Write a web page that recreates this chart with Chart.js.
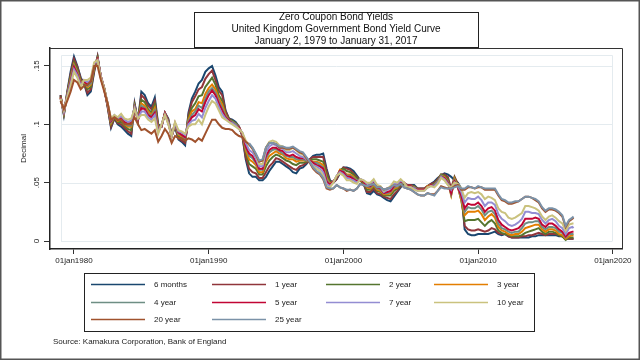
<!DOCTYPE html>
<html><head><meta charset="utf-8">
<script src="https://cdn.jsdelivr.net/npm/chart.js@4.4.1/dist/chart.umd.min.js"></script>
<style>html,body{margin:0;padding:0;background:#fff;}canvas{display:block;}</style>
</head><body>
<canvas id="c" width="640" height="360"></canvas>
<script>
const FONT = '"Liberation Sans", Arial, sans-serif';
const titleLines = ['Zero Coupon Bond Yields','United Kingdom Government Bond Yield Curve','January 2, 1979 to January 31, 2017'];
const sourceText = 'Source: Kamakura Corporation, Bank of England';
const yAxisTitle = 'Decimal';
const yTicks = [0, 0.05, 0.1, 0.15];
const yTickLabels = ['0', '.05', '.1', '.15'];
const xTicks = [1980, 1990, 2000, 2010, 2020];
const xTickLabels = ['01jan1980', '01jan1990', '01jan2000', '01jan2010', '01jan2020'];
const seriesLabels = ['6 months','1 year','2 year','3 year','4 year','5 year','7 year','10 year','20 year','25 year'];
const seriesColors = ['#1a476f','#90353b','#55752f','#e37e00','#6e8e84','#c10534','#938dd2','#cac27e','#a0522d','#7b92a8'];

const dates = [
1979,1979.25,1979.5,1979.75, 1980,1980.25,1980.5,1980.75, 1981,1981.25,1981.5,1981.75,
1982,1982.25,1982.5,1982.75, 1983,1983.25,1983.5,1983.75, 1984,1984.25,1984.5,1984.75,
1985,1985.25,1985.5,1985.75, 1986,1986.25,1986.5,1986.75, 1987,1987.25,1987.5,1987.75,
1988,1988.25,1988.5,1988.75, 1989,1989.25,1989.5,1989.75, 1990,1990.25,1990.5,1990.75,
1991,1991.25,1991.5,1991.75, 1992,1992.25,1992.5,1992.75, 1993,1993.25,1993.5,1993.75,
1994,1994.25,1994.5,1994.75, 1995,1995.25,1995.5,1995.75, 1996,1996.25,1996.5,1996.75,
1997,1997.25,1997.5,1997.75, 1998,1998.25,1998.5,1998.75, 1999,1999.25,1999.5,1999.75,
2000,2000.25,2000.5,2000.75, 2001,2001.25,2001.5,2001.75, 2002,2002.25,2002.5,2002.75,
2003,2003.25,2003.5,2003.75, 2004,2004.25,2004.5,2004.75, 2005,2005.25,2005.5,2005.75,
2006,2006.25,2006.5,2006.75, 2007,2007.25,2007.5,2007.75, 2008,2008.25,2008.5,2008.75,
2009,2009.25,2009.5,2009.75, 2010,2010.25,2010.5,2010.75, 2011,2011.25,2011.5,2011.75,
2012,2012.25,2012.5,2012.75, 2013,2013.25,2013.5,2013.75, 2014,2014.25,2014.5,2014.75,
2015,2015.25,2015.5,2015.75, 2016,2016.25,2016.5,2016.75, 2017,2017.08];

const m6 = [
.125,.108,.128,.145, .158,.150,.140,.135, .125,.128,.145,.158, .140,.130,.115,.097,
.105,.100,.098,.095, .092,.090,.118,.103, .128,.125,.118,.115, .123,.100,.098,.110,
.105,.090,.098,.087, .085,.082,.110,.122, .128,.135,.138,.145, .148,.150,.142,.132,
.128,.112,.105,.104, .102,.098,.090,.070, .058,.055,.055,.052, .052,.055,.060,.064,
.068,.068,.066,.064, .062,.059,.058,.062, .063,.066,.070,.073, .074,.074,.075,.062,
.052,.050,.053,.058, .063,.063,.062,.060, .056,.052,.049,.041, .040,.043,.040,.039,
.037,.035,.034,.038, .042,.046,.049,.048, .048,.048,.045,.045, .045,.047,.049,.051,
.054,.056,.058,.057, .055,.052,.050,.045, .010,.006,.005,.005, .006,.006,.006,.006,
.007,.008,.006,.005, .006,.004,.003,.003, .003,.003,.003,.003, .004,.004,.005,.005,
.005,.005,.005,.005, .004,.004,.002,.002, .002,.002];

const y1 = [
.125,.109,.127,.143, .156,.149,.139,.135, .127,.130,.146,.158, .139,.130,.115,.098,
.105,.101,.100,.097, .094,.092,.117,.103, .125,.122,.116,.113, .120,.099,.098,.110,
.104,.090,.099,.088, .086,.084,.108,.119, .124,.130,.132,.139, .143,.146,.138,.129,
.125,.111,.105,.103, .101,.098,.090,.072, .062,.059,.058,.054, .054,.059,.064,.067,
.071,.070,.068,.066, .064,.062,.061,.064, .065,.067,.070,.072, .072,.072,.072,.060,
.051,.050,.053,.060, .063,.062,.061,.058, .055,.052,.049,.042, .042,.045,.041,.040,
.038,.037,.036,.040, .043,.047,.049,.048, .048,.047,.045,.045, .045,.047,.049,.050,
.053,.057,.057,.055, .045,.055,.049,.040, .013,.010,.009,.009, .010,.009,.008,.009,
.011,.010,.007,.006, .006,.004,.003,.003, .003,.004,.004,.005, .005,.006,.007,.006,
.005,.006,.006,.006, .005,.004,.002,.002, .002,.002];

const y2 = [
.124,.109,.126,.141, .153,.147,.137,.136, .130,.132,.148,.157, .140,.131,.116,.100,
.106,.102,.102,.099, .096,.095,.116,.104, .121,.119,.113,.110, .117,.097,.099,.109,
.103,.090,.099,.090, .088,.086,.106,.114, .118,.124,.125,.132, .136,.140,.134,.125,
.120,.109,.104,.103, .101,.097,.091,.076, .066,.064,.062,.057, .057,.064,.069,.072,
.074,.073,.071,.069, .068,.066,.065,.067, .067,.068,.069,.070, .070,.069,.068,.057,
.050,.051,.054,.061, .062,.060,.059,.057, .054,.052,.050,.044, .044,.047,.043,.042,
.039,.039,.039,.043, .045,.048,.049,.047, .047,.047,.044,.044, .044,.047,.048,.049,
.052,.057,.056,.053, .040,.054,.047,.035, .017,.018,.018,.018, .019,.016,.013,.016,
.018,.015,.009,.007, .006,.005,.004,.004, .004,.005,.007,.008, .009,.010,.011,.008,
.006,.008,.008,.007, .005,.004,.001,.003, .003,.003];

const y3 = [
.123,.110,.125,.139, .151,.145,.136,.137, .132,.134,.149,.156, .141,.131,.117,.101,
.107,.103,.104,.100, .098,.098,.115,.104, .118,.116,.111,.108, .114,.096,.099,.109,
.102,.091,.100,.091, .090,.087,.104,.111, .113,.119,.118,.126, .131,.134,.130,.122,
.117,.108,.103,.102, .100,.097,.092,.078, .070,.068,.065,.059, .059,.068,.073,.075,
.077,.075,.074,.071, .070,.070,.068,.069, .069,.069,.069,.068, .068,.067,.065,.054,
.049,.051,.055,.061, .060,.057,.057,.055, .052,.052,.051,.046, .045,.048,.044,.043,
.040,.040,.041,.045, .046,.050,.050,.047, .047,.046,.044,.044, .044,.047,.048,.048,
.051,.056,.055,.051, .039,.053,.046,.035, .022,.025,.025,.025, .026,.023,.018,.021,
.023,.020,.012,.009, .008,.006,.005,.006, .006,.008,.011,.012, .013,.014,.014,.010,
.008,.010,.010,.009, .006,.005,.002,.004, .005,.005];

const y4 = [
.123,.110,.125,.138, .150,.144,.135,.137, .133,.135,.150,.156, .141,.131,.117,.102,
.107,.104,.105,.101, .099,.099,.115,.104, .116,.114,.109,.107, .112,.095,.099,.109,
.102,.091,.100,.092, .091,.088,.103,.108, .111,.116,.114,.122, .128,.131,.127,.120,
.114,.107,.103,.102, .100,.097,.092,.080, .073,.071,.067,.061, .061,.071,.076,.078,
.079,.077,.075,.073, .072,.072,.070,.070, .070,.069,.069,.067, .067,.065,.063,.053,
.048,.051,.055,.060, .060,.056,.056,.054, .052,.053,.051,.047, .046,.049,.045,.044,
.041,.041,.042,.046, .047,.050,.050,.047, .047,.046,.044,.044, .044,.046,.048,.048,
.051,.056,.054,.051, .040,.052,.046,.037, .025,.029,.028,.028, .030,.027,.022,.025,
.026,.023,.015,.011, .010,.008,.007,.008, .008,.011,.015,.016, .016,.017,.017,.012,
.010,.012,.012,.011, .008,.007,.003,.006, .006,.006];

const y5 = [
.123,.111,.124,.136, .149,.143,.134,.137, .134,.137,.151,.156, .141,.130,.117,.103,
.107,.104,.106,.102, .101,.101,.114,.104, .114,.113,.108,.106, .110,.094,.099,.109,
.101,.090,.101,.093, .091,.089,.101,.106, .108,.113,.111,.119, .125,.129,.125,.118,
.112,.106,.103,.101, .099,.097,.092,.081, .075,.073,.068,.062, .062,.073,.078,.080,
.080,.078,.077,.074, .073,.074,.072,.071, .071,.070,.069,.067, .065,.064,.062,.051,
.048,.051,.055,.060, .059,.055,.055,.053, .051,.053,.051,.047, .047,.050,.046,.045,
.041,.042,.043,.047, .048,.051,.050,.047, .047,.045,.044,.044, .044,.046,.048,.047,
.050,.055,.054,.050, .041,.051,.046,.039, .028,.032,.031,.031, .033,.030,.025,.028,
.029,.026,.018,.014, .012,.010,.009,.010, .011,.014,.019,.019, .019,.020,.019,.014,
.012,.015,.015,.013, .010,.008,.004,.007, .008,.008];

const y7 = [
.122,.111,.124,.135, .147,.142,.133,.138, .136,.138,.152,.155, .141,.130,.118,.104,
.108,.105,.107,.104, .102,.103,.114,.105, .111,.111,.106,.104, .108,.093,.100,.108,
.101,.090,.101,.094, .093,.091,.100,.103, .104,.109,.106,.114, .120,.125,.122,.115,
.109,.105,.102,.101, .099,.096,.093,.084, .078,.076,.071,.064, .064,.076,.081,.083,
.082,.080,.079,.076, .076,.077,.075,.073, .072,.070,.068,.065, .064,.062,.059,.049,
.047,.050,.056,.059, .057,.054,.053,.052, .050,.053,.052,.049, .049,.052,.047,.046,
.042,.044,.045,.049, .049,.052,.050,.046, .046,.045,.043,.043, .043,.046,.047,.047,
.050,.055,.053,.049, .044,.050,.047,.042, .033,.037,.036,.036, .038,.035,.030,.033,
.033,.031,.023,.019, .017,.014,.013,.014, .016,.019,.025,.025, .024,.024,.023,.018,
.015,.018,.019,.017, .013,.011,.006,.011, .012,.011];

const y10 = [
.122,.112,.123,.133, .145,.140,.132,.138, .138,.140,.153,.155, .140,.130,.118,.105,
.108,.106,.109,.105, .104,.105,.113,.105, .108,.108,.104,.102, .105,.092,.100,.108,
.100,.090,.102,.095, .094,.092,.098,.100, .100,.104,.100,.108, .115,.120,.118,.112,
.106,.104,.102,.100, .098,.096,.093,.086, .082,.080,.074,.066, .066,.080,.085,.086,
.085,.082,.081,.078, .078,.080,.078,.075, .074,.071,.068,.064, .062,.060,.056,.047,
.046,.050,.056,.058, .056,.052,.052,.050, .049,.053,.052,.050, .050,.053,.048,.047,
.043,.045,.047,.051, .050,.053,.050,.046, .046,.044,.043,.043, .043,.046,.047,.046,
.049,.054,.052,.048, .046,.050,.049,.045, .037,.041,.042,.041, .042,.040,.036,.038,
.037,.035,.028,.025, .024,.020,.019,.020, .022,.024,.030,.030, .029,.028,.026,.021,
.018,.021,.022,.020, .017,.015,.009,.014, .015,.015];

const y20 = [
.120,.113,.120,.128, .138,.136,.130,.133, .134,.137,.150,.150, .138,.128,.118,.104,
.106,.104,.104,.100, .100,.100,.106,.100, .095,.096,.094,.092, .095,.085,.090,.096,
.092,.084,.090,.088, .088,.086,.088,.087, .085,.088,.086,.092, .098,.104,.104,.100,
.097,.096,.096,.095, .092,.090,.089,.085, .083,.079,.074,.068, .069,.080,.084,.084,
.083,.080,.080,.079, .079,.080,.078,.076, .075,.071,.067,.062, .059,.057,.053,.045,
.044,.045,.048,.046, .045,.043,.044,.043, .045,.049,.048,.047, .048,.049,.046,.046,
.044,.045,.046,.048, .047,.049,.046,.045, .044,.042,.040,.039, .039,.041,.040,.040,
.043,.047,.046,.045, .045,.047,.048,.044, .044,.046,.046,.045, .046,.046,.044,.044,
.044,.044,.039,.035, .034,.032,.032,.033, .034,.036,.038,.038, .037,.035,.033,.028,
.025,.027,.027,.026, .024,.021,.012,.017, .019,.020];

const y25 = [
null,null,null,null, null,null,null,null, null,null,null,null, null,null,null,null,
null,null,null,null, null,null,null,null, null,null,null,null, null,null,null,null,
null,null,null,null, null,null,null,null, null,null,null,null, null,null,null,null,
null,null,null,null, null,null,null,null, .084,.080,.075,.069, .070,.080,.084,.084,
.083,.081,.081,.080, .080,.081,.079,.077, .076,.072,.068,.063, .060,.058,.054,.046,
.045,.045,.048,.046, .045,.044,.044,.043, .045,.049,.048,.047, .048,.049,.046,.046,
.044,.045,.046,.048, .047,.049,.046,.045, .044,.042,.040,.039, .039,.041,.040,.039,
.043,.046,.045,.045, .045,.046,.047,.045, .045,.047,.046,.045, .047,.046,.045,.045,
.045,.045,.040,.036, .035,.033,.033,.034, .034,.036,.038,.038, .037,.036,.034,.029,
.026,.028,.028,.027, .025,.022,.013,.018, .020,.021];

const seriesValues = [m6, y1, y2, y3, y4, y5, y7, y10, y20, y25];

const datasets = seriesValues.map((vals, i) => ({
  label: seriesLabels[i],
  data: vals.map((v, k) => ({ x: dates[k], y: v })),
  borderColor: seriesColors[i],
  backgroundColor: seriesColors[i],
  borderWidth: 2,
  pointRadius: 0,
  tension: 0,
  fill: false,
  spanGaps: false,
  order: seriesValues.length - i
}));

const decor = {
  id: 'decor',
  beforeDraw(chart) {
    const ctx = chart.ctx;
    ctx.save();
    ctx.fillStyle = '#fff';
    ctx.fillRect(0, 0, chart.width, chart.height);
    ctx.restore();
  },
  beforeDatasetsDraw(chart) {
    const ctx = chart.ctx, a = chart.chartArea, ys = chart.scales.y;
    const l = a.left + 11, r = a.right - 10, t = a.top + 7;
    ctx.save();
    ctx.strokeStyle = '#e4ebef';
    ctx.lineWidth = 1;
    yTicks.forEach(v => {
      const p = Math.round(ys.getPixelForValue(v)) + 0.5;
      ctx.beginPath(); ctx.moveTo(l, p); ctx.lineTo(r, p); ctx.stroke();
    });
    const b = Math.round(ys.getPixelForValue(0)) + 0.5;
    ctx.beginPath();
    ctx.moveTo(l + 0.5, b); ctx.lineTo(l + 0.5, t + 0.5); ctx.lineTo(r + 0.5, t + 0.5); ctx.lineTo(r + 0.5, b);
    ctx.stroke();
    ctx.restore();
  },
  afterDraw(chart) {
    const ctx = chart.ctx, a = chart.chartArea;
    ctx.save();
    ctx.strokeStyle = '#333';
    ctx.lineWidth = 1;
    ctx.beginPath();
    ctx.moveTo(a.left, a.top + 0.5); ctx.lineTo(a.right + 0.5, a.top + 0.5); ctx.lineTo(a.right + 0.5, a.bottom);
    ctx.stroke();
    // title box
    const cx = (a.left + a.right) / 2;
    const tw = 284, th = 35, tt = 12;
    ctx.fillStyle = '#fff';
    ctx.fillRect(cx - tw / 2, tt, tw, th);
    ctx.strokeStyle = '#222';
    ctx.strokeRect(Math.round(cx - tw / 2) + 0.5, tt + 0.5, tw, th);
    ctx.fillStyle = '#111';
    ctx.font = '10px ' + FONT;
    ctx.textAlign = 'center';
    ctx.textBaseline = 'middle';
    titleLines.forEach((s, i) => ctx.fillText(s, cx, 17.5 + i * 11.8));
    // legend
    const lx = 84, ly = 273, lw = 450, lh = 58;
    ctx.strokeStyle = '#222';
    ctx.lineWidth = 1;
    ctx.strokeRect(lx + 0.5, ly + 0.5, lw, lh);
    const colLine = [91, 212, 326, 434];
    const rowY = [284, 302, 319];
    ctx.font = '8px ' + FONT;
    ctx.textAlign = 'left';
    ctx.textBaseline = 'middle';
    chart.data.datasets.forEach((ds, i) => {
      const c = i % 4, r = Math.floor(i / 4);
      const x0 = colLine[c], y0 = rowY[r] + 0.5;
      ctx.strokeStyle = ds.borderColor;
      ctx.lineWidth = 1.7;
      ctx.beginPath(); ctx.moveTo(x0, y0); ctx.lineTo(x0 + 54, y0); ctx.stroke();
      ctx.fillStyle = '#222';
      ctx.fillText(ds.label, x0 + 63, y0);
    });
    ctx.fillStyle = '#222';
    ctx.font = '8px ' + FONT;
    ctx.fillText(sourceText, 53, 342);
    ctx.strokeStyle = '#555';
    ctx.lineWidth = 1.5;
    ctx.strokeRect(0.75, 0.75, chart.width - 1.5, chart.height - 1.5);
    ctx.restore();
  }
};

new Chart(document.getElementById('c'), {
  type: 'line',
  data: { datasets },
  options: {
    responsive: false,
    animation: false,
    layout: { padding: { top: 48, right: 18, left: 0, bottom: 0 } },
    plugins: { legend: { display: false }, tooltip: { enabled: false }, title: { display: false } },
    scales: {
      x: {
        type: 'linear', min: 1978.22, max: 2020.68,
        afterBuildTicks: s => { s.ticks = xTicks.map(v => ({ value: v })); },
        afterFit: s => { s.height = 111; },
        ticks: {
          callback: v => xTickLabels[xTicks.indexOf(v)],
          font: { size: 8, family: FONT }, color: '#222', padding: 2, maxRotation: 0, autoSkip: false
        },
        grid: { drawOnChartArea: false, drawTicks: true, tickLength: 5, color: '#333', lineWidth: 1 },
        border: { display: true, color: '#222', width: 1.5 }
      },
      y: {
        type: 'linear', min: -0.00685, max: 0.1654,
        afterBuildTicks: s => { s.ticks = yTicks.map(v => ({ value: v })); },
        afterFit: s => { s.width = 50; },
        ticks: {
          callback: v => yTickLabels[yTicks.indexOf(v)],
          minRotation: 90, maxRotation: 90, crossAlign: 'center',
          font: { size: 8, family: FONT }, color: '#222', padding: 2, autoSkip: false
        },
        grid: { drawOnChartArea: false, drawTicks: true, tickLength: 6, color: '#333', lineWidth: 1 },
        border: { display: true, color: '#222', width: 1.5 },
        title: { display: true, text: yAxisTitle, font: { size: 8, family: FONT }, color: '#222', padding: { top: 19, bottom: 0 } }
      }
    }
  },
  plugins: [decor]
});
</script>
</body></html>
